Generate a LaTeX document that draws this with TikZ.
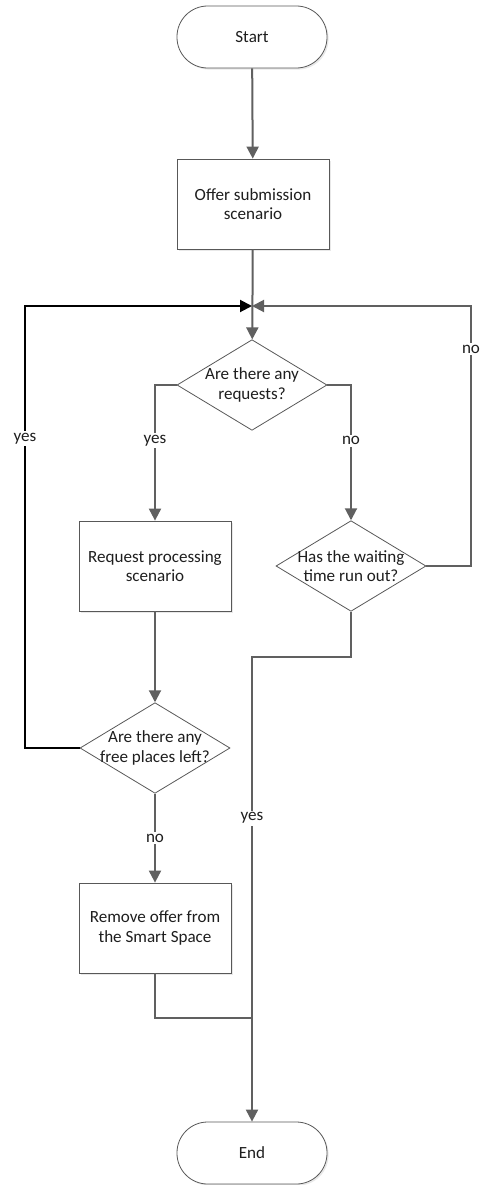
\documentclass[tikz,border=0pt]{standalone}
\usepackage{fontspec}
\setmainfont{Carlito}
\definecolor{linegray}{RGB}{96,96,96}
\definecolor{edgegray}{RGB}{88,88,88}
\definecolor{textgray}{RGB}{30,30,30}
\usetikzlibrary{arrows.meta,positioning,shapes.geometric,shadows}

\begin{document}
\begin{tikzpicture}[x=0.75pt, y=-0.75pt,
  every node/.style={font=\fontsize{12.8pt}{14.5pt}\selectfont, text=textgray},
  softshadow/.style={drop shadow={shadow xshift=1.2pt, shadow yshift=-1.2pt, opacity=0.18, fill=gray}},
  term/.style={draw=edgegray, line width=0.6pt, fill=white, rounded corners=23pt,
               minimum width=112.5pt, minimum height=46.5pt, softshadow},
  stepbox/.style={draw=edgegray, line width=0.6pt, fill=white, align=center,
                  minimum width=114pt, minimum height=67.5pt, softshadow},
  decision/.style={draw=edgegray, line width=0.6pt, fill=white, diamond, inner sep=0pt,
                   minimum width=112.5pt, minimum height=68pt},
  conn/.style={draw=linegray, line width=1.5pt, -{Triangle[length=9pt, width=9pt]}},
  plain/.style={draw=linegray, line width=1.5pt},
  lbl/.style={fill=white, inner sep=1.5pt}
]
  \useasboundingbox (0,0) rectangle (485,1185);

  % shapes
  \node[term] (start) at (252,37) {Start};
  \node[stepbox] (offer) at (253,204) {Offer submission\\scenario};
  \node[decision, label={[align=center]center:{Are there any\\requests?}}] (req) at (252,385) {};
  \node[stepbox] (proc) at (155,566) {Request processing\\scenario};
  \node[decision, label={[align=center]center:{Has the waiting\\time run out?}}] (wait) at (351,566) {};
  \node[decision, label={[align=center]center:{Are there any\\free places left?}}] (free) at (155,748) {};
  \node[stepbox] (remove) at (155,928) {Remove offer from\\the Smart Space};
  \node[term] (end) at (252,1153) {End};

  % bends
  \coordinate (join) at (252,306);
  \coordinate (leftturn) at (25,306);
  \coordinate (rightturn) at (471,306);
  \coordinate (waitbend) at (252,657);
  \coordinate (merge) at (252,1018);

  % connectors
  \draw[conn] (start) -- (offer);
  \draw[conn] (offer) -- (req);
  \draw[conn] (req.west) -| node[lbl, pos=0.706] {yes} (proc.north);
  \draw[conn] (req.east) -| node[lbl, pos=0.706] {no} (wait.north);
  \draw[conn] (proc) -- (free);
  \draw[conn, draw=black] (free.west) -| node[lbl, pos=0.85] {yes} (leftturn) -- (join);
  \draw[conn] (wait.east) -| node[lbl, pos=0.917] {no} (rightturn) -- (join);
  \draw[conn] (wait.south) |- (waitbend) -- node[lbl, pos=0.347] {yes} (end);
  \draw[conn] (free) -- node[lbl] {no} (remove);
  \draw[plain] (remove.south) |- (merge);
\end{tikzpicture}
\end{document}
